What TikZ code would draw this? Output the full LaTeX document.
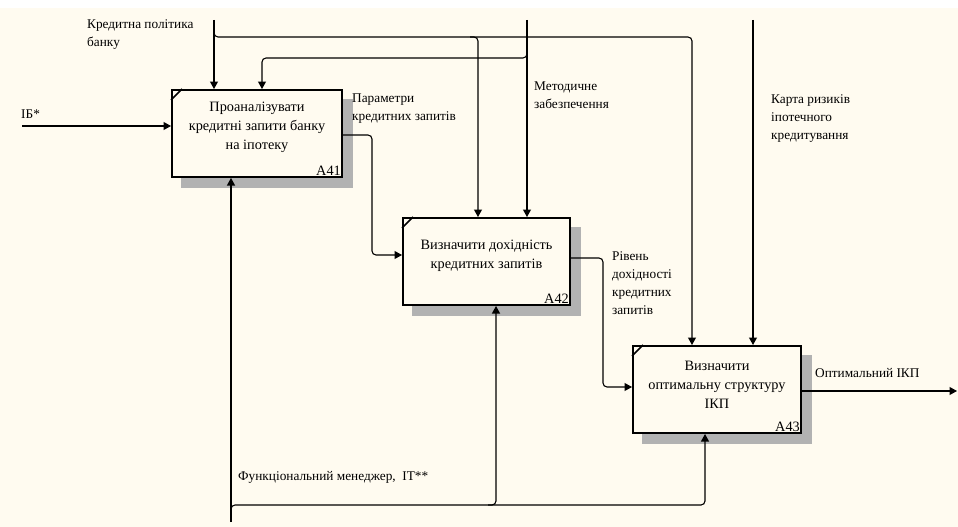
\documentclass[tikz,border=0pt]{standalone}
\usepackage{fontspec}
\setmainfont{Liberation Serif}
\usetikzlibrary{arrows.meta,backgrounds}
\definecolor{bgc}{RGB}{255,251,240}
\begin{document}
\begin{tikzpicture}[x=1pt,y=-1pt,
  font=\fontsize{13.3}{18}\selectfont,
  box/.style={draw=black, line width=2pt, fill=bgc, minimum width=#1, minimum height=87pt, inner sep=0pt},
  boxtext/.style={align=center, inner sep=0pt, font=\fontsize{14.3}{19}\selectfont},
  numtext/.style={anchor=south east, inner sep=2pt, font=\fontsize{14.3}{19}\selectfont},
  lbl/.style={align=left, inner sep=0pt, anchor=north west},
  conn/.style={line width=1.1pt, rounded corners=4pt},
  arr/.style={conn, -{Triangle[length=7.5pt,width=8pt]}},
  shadow/.style={fill=black!30}
]
\useasboundingbox (0,0) rectangle (958,527);
% boxes
\node[box=170pt] (A41) at (257,133.5) {};
\node[box=167pt] (A42) at (486.5,261.5) {};
\node[box=168pt] (A43) at (717,389.5) {};
\foreach \b in {A41,A42,A43}{
  \draw[line width=1.6pt] ([yshift=-11pt]\b.north west) -- ([xshift=11pt]\b.north west);
}
\node[boxtext] (A41t) at (257,127.5) {Проаналізувати\\кредитні запити банку\\на іпотеку};
\node[boxtext] (A42t) at (486.5,255.5) {Визначити дохідність\\кредитних запитів};
\node[boxtext] (A43t) at (717,384.5) {Визначити\\оптимальну структуру\\ІКП};
\node[numtext] (A41n) at (A41.south east) {A41};
\node[numtext] (A42n) at (A42.south east) {A42};
\node[numtext] (A43n) at (A43.south east) {A43};
\begin{scope}[on background layer]
  \fill[bgc] (0,8) rectangle (958,527);
  \foreach \b in {A41,A42,A43}{
    \fill[shadow] ([shift={(10,10)}]\b.north west) rectangle ([shift={(10,10)}]\b.south east);
  }
\end{scope}
% free ends and bends
\coordinate (kp) at (214,20);
\coordinate (mz) at (527,20);
\coordinate (kr) at (753,20);
\coordinate (ib) at (22,126);
\coordinate (fm) at (231,522);
\coordinate (out) at (957,391);
\coordinate (c43a) at (692,37);
\coordinate (c42a) at (478,37);
\coordinate (c41b) at (262,58);
\coordinate (m43) at (705,505);
\coordinate (m42) at (496,505);
% labels
\node[anchor=west, inner sep=0pt] (Lib) at (21,114) {IБ*};
\node[lbl] (Lkp) at (87,19) {Кредитна політика\\банку};
\node[lbl] (Lpar) at (352,94) {Параметри\\кредитних запитів};
\node[lbl] (Lmz) at (534,82) {Методичне\\забезпечення};
\node[lbl] (Lriv) at (612,251) {Рівень\\дохідності\\кредитних\\запитів};
\node[lbl] (Lkr) at (771,94) {Карта ризиків\\іпотечного\\кредитування};
\node[anchor=west, inner sep=0pt] (Lopt) at (815,373) {Оптимальний ІКП};
\node[anchor=west, inner sep=0pt] (Lfm) at (238,477) {Функціональний менеджер,\ \ IT**};
% inputs
\draw[arr] (ib) -- (ib -| A41.west);
% controls
\draw[arr] (kp) -- (kp |- A41.north);
\draw[arr] (214,31) -- (214,37) -- (c43a) -- (c43a |- A43.north);
\draw[arr] (470,37) -- (c42a) -- (c42a |- A42.north);
\draw[arr] (mz) -- (mz |- A42.north);
\draw[arr] (527,50) -- (527,58) -- (c41b) -- (c41b |- A41.north);
\draw[arr] (kr) -- (kr |- A43.north);
% outputs
\draw[arr] (A41.east |- 0,135) -- (372,135) -- (372,255) -- (A42.west |- 0,255);
\draw[arr] (A42.east |- 0,258) -- (603,258) -- (603,387) -- (A43.west |- 0,387);
\draw[arr] (A43.east |- out) -- (out);
% mechanisms
\draw[arr] (fm) -- (fm |- A41.south);
\draw[arr] (231,512) -- (231,505) -- (m43) -- (m43 |- A43.south);
\draw[arr] (488,505) -- (m42) -- (m42 |- A42.south);
\end{tikzpicture}
\end{document}
